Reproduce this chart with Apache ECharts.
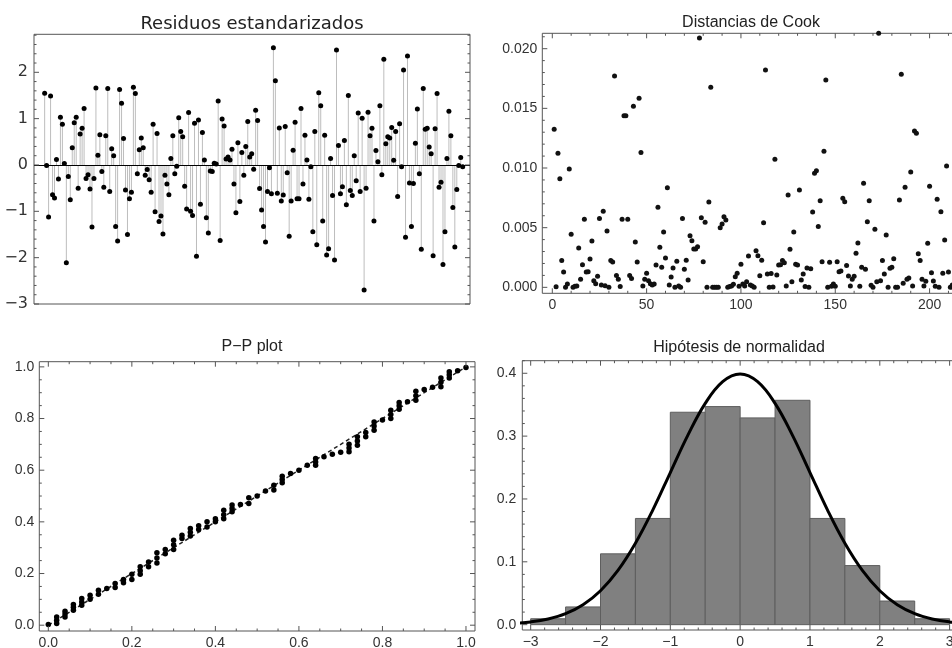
<!DOCTYPE html>
<html>
<head>
<meta charset="utf-8">
<script src="https://cdn.jsdelivr.net/npm/echarts@6/dist/echarts.min.js"></script>
<style>
html,body{margin:0;padding:0;background:#fff;}
#chart{width:952px;height:648px;}
</style>
</head>
<body>
<div id="chart"></div>
<script>
// ---------- DATA ----------
const residuals = [
 1.55,-0.01,-1.12,1.49,-0.64,-0.71,0.12,-0.30,1.03,0.88,
 0.03,-2.11,-0.25,-0.75,0.37,0.91,1.03,-0.50,0.67,0.79,
 1.22,-0.29,-0.21,-0.52,-1.34,-0.29,1.66,0.21,0.65,-0.14,
 -0.48,0.63,1.65,-0.57,0.35,0.20,-1.33,-1.64,1.63,1.33,
 0.57,-0.54,-1.50,-0.73,-0.59,1.68,1.54,-0.19,0.33,0.58,
 0.37,-0.22,-0.10,-0.32,-0.59,0.88,-1.01,0.68,-1.22,-1.10,
 -1.49,-0.22,-0.41,-0.64,0.14,0.63,-0.19,-0.03,1.02,0.72,
 0.61,-0.46,-0.95,1.13,-1.00,-1.09,0.90,-1.97,0.97,-0.85,
 0.70,0.11,-1.14,-1.47,-0.13,-0.14,0.04,0.02,1.38,-1.63,
 0.99,0.84,0.13,0.17,0.11,0.34,-0.41,-1.03,0.48,-0.79,
 0.27,-0.22,0.40,0.94,0.17,
 0.24,-0.09,1.18,0.96,-0.51,-0.97,-1.33,-1.66,-0.57,-0.06,
 -0.62,2.53,1.82,-0.61,0.80,-0.78,-0.65,0.83,-0.17,-1.54,
 -0.78,0.32,0.92,-0.73,-0.73,1.22,-0.41,0.64,0.11,-0.74,
 -0.04,-1.44,0.72,-1.72,1.56,1.28,-1.21,0.64,-1.94,-1.81,
 0.14,-0.66,-2.05,2.48,0.42,-0.62,-0.47,0.53,-0.86,1.50,
 -0.55,-0.66,0.20,-0.34,1.12,-0.57,1.01,-2.70,-0.50,1.14,
 0.63,0.79,-1.21,0.31,0.07,1.28,-0.21,2.28,0.46,0.61,
 0.58,0.81,0.10,0.72,-0.68,0.89,-0.04,2.05,-1.56,2.35,
 -0.39,-1.33,-0.40,0.47,1.21,-0.19,-1.82,1.65,0.77,0.79,
 0.39,0.24,-1.96,0.78,1.54,-0.48,-0.37,-2.15,-1.44,0.14,
 1.16,0.63,-0.92,-1.77,-0.53,-0.01,0.16,-0.04
];
const cookDistances = [
 0.01324,0.00005,0.01123,0.00911,0.00224,0.00129,0.0,0.00028,0.00992,0.00444,
 0.0,0.0001,0.00011,0.0033,0.00067,0.0019,0.0057,0.00129,0.00131,0.00237,
 0.00388,0.00056,0.00031,0.00092,0.00576,0.0002,0.00637,0.00014,0.00472,0.0,
 0.00224,0.00212,0.01771,0.001,0.00067,0.00006,0.0057,0.01439,0.01439,0.0057,
 0.001,0.00075,0.01517,0.0038,0.00212,0.01584,0.01129,0.00011,0.00067,0.00117,
 0.00056,0.00031,0.0002,0.00028,0.00187,0.00671,0.00335,0.00168,0.00464,0.00246,
 0.00835,0.0002,0.00087,0.00162,0.0,0.00218,0.00011,0.0,0.00576,0.00151,
 0.00226,0.00061,0.00433,0.00391,0.00321,0.00321,0.00341,0.0209,0.00584,0.00215,
 0.00545,0.0,0.00715,0.01676,0.0,0.0,0.0,0.0,0.005,0.00531,
 0.00592,0.00564,0.0,0.00006,0.00011,0.00025,0.00089,0.00117,0.0001,0.00193,
 0.00028,0.00011,0.00047,0.00263,0.0002,0.00011,0.0,0.00307,0.00265,0.00098,
 0.00226,0.00542,0.01822,0.00112,0.0,0.00115,0.00003,0.01073,0.00103,0.00187,
 0.0019,0.00224,0.00207,0.00011,0.00774,0.00319,0.00047,0.00464,0.00193,0.00187,
 0.00816,0.00061,0.00112,0.00006,0.00162,0.0,0.00156,0.00631,0.00956,0.00978,
 0.00509,0.00726,0.00215,0.0114,0.01738,0.0,0.0021,0.0001,0.00028,0.0001,
 0.00215,0.00131,0.00137,0.00746,0.00718,0.00182,0.00095,0.00011,0.00067,0.00092,
 0.00285,0.00372,0.0001,0.00168,0.00872,0.00151,0.0055,0.00726,0.00017,0.0,
 0.00486,0.00047,0.0213,0.00056,0.00224,0.00112,0.00439,0.0,0.00159,0.00168,
 0.0024,0.0,0.0,0.00732,0.01785,0.00034,0.00838,0.00067,0.00078,0.00967,
 0.00011,0.0131,0.01291,0.00282,0.00224,0.00067,0.00011,0.0005,0.00369,0.00847,
 0.00123,0.00053,0.0001,0.00738,0.0,0.00634,0.00117,0.00397,0.01017,0.00129,
 0.0,0.0002,0.0001
];
const ppTheoretical = [
 0.00,0.02,0.04,0.06,0.08,0.10,0.12,0.14,0.16,0.18,
 0.20,0.22,0.24,0.26,0.28,0.30,0.32,0.34,0.36,0.38,
 0.40,0.42,0.44,0.46,0.48,0.50,0.52,0.54,0.56,0.58,
 0.60,0.62,0.64,0.66,0.68,0.70,0.72,0.74,0.76,0.78,
 0.80,0.82,0.84,0.86,0.88,0.90,0.92,0.94,0.96,0.98,1.00
];
const ppObserved = [
 [0.003],[0.007,0.019,0.032],[0.032,0.043,0.054],[0.058,0.069,0.080],[0.077,0.090,0.103],
 [0.100,0.116],[0.120,0.135],[0.142],[0.146,0.161],[0.164,0.177],
 [0.177,0.197],[0.197,0.211,0.226],[0.226,0.245],[0.241,0.260,0.280],[0.277,0.293],
 [0.293,0.311,0.329],[0.336,0.348],[0.345,0.360,0.374],[0.370,0.385],[0.380,0.400],
 [0.400,0.412],[0.412,0.428,0.445],[0.439,0.452,0.465],[0.467],[0.471,0.493],
 [0.500],[0.519],[0.523,0.542],[0.551,0.564,0.577],[0.587],
 [0.600],[0.619],[0.619,0.632,0.645],[0.652],[0.662],
 [0.669],[0.671,0.686,0.700],[0.697,0.713,0.729],[0.729,0.746],[0.755,0.771,0.787],
 [0.794],[0.800,0.816,0.832],[0.836,0.849,0.862],[0.865],[0.871,0.888,0.906],
 [0.912],[0.921],[0.923,0.940,0.957],[0.957,0.969,0.981],[0.985],[0.998]
];
const ppReference = [0, 1];
const histBinEdges = [-3,-2.5,-2,-1.5,-1,-0.5,0,0.5,1,1.5,2,2.5,3];
const histDensity = [0.0094,0.0282,0.1127,0.169,0.338,0.347,0.329,0.357,0.169,0.094,0.0376,0.0094];
const normalX = [-3.75,-3.5,-3.25,-3,-2.75,-2.5,-2.25,-2,-1.75,-1.5,-1.25,-1,-0.75,-0.5,-0.25,0,
                 0.25,0.5,0.75,1,1.25,1.5,1.75,2,2.25,2.5,2.75,3,3.25,3.5,3.75];
const normalY = [0.0004,0.0009,0.002,0.0044,0.0091,0.0175,0.0317,0.054,0.0863,0.1295,0.1826,0.242,0.3011,0.3521,0.3867,0.3989,
                 0.3867,0.3521,0.3011,0.242,0.1826,0.1295,0.0863,0.054,0.0317,0.0175,0.0091,0.0044,0.002,0.0009,0.0004];

const residTickLabels = [-3,-2,-1,0,1,2];
const cookXTickLabels = [0,50,100,150,200];
const cookYTickLabels = [0,0.005,0.010,0.015,0.020];
const ppTickLabels = [0,0.2,0.4,0.6,0.8,1.0];
const histXTickLabels = [-3,-2,-1,0,1,2,3];
const histYTickLabels = [0,0.1,0.2,0.3,0.4];

const titles = ['Residuos estandarizados','Distancias de Cook','P\u2212P plot','Hip\u00f3tesis de normalidad'];

// ---------- STYLE / LAYOUT ----------
const FRAME = '#555';
const LABEL = '#333';
const SANS = '"Liberation Sans", Arial, sans-serif';
const DEJAVU = '"DejaVu Sans", Verdana, sans-serif';

function steps(a, b, s) {
  const out = [];
  const n = Math.round((b - a) / s);
  for (let i = 0; i <= n; i++) out.push(+(a + i * s).toFixed(6));
  return out;
}
const minus = v => (v < 0 ? '\u2212' + Math.abs(v) : String(v));

const panels = [
  { grid:{left:34, top:34.3, right:482, bottom:344},
    x:[-4.4,216.7], y:[-3,2.82],
    ticks:{ left:[residTickLabels, steps(-3,2.8,0.2)], right:[residTickLabels, steps(-3,2.8,0.2)] },
    xLabels:null, yLabels:residTickLabels,
    xFmt:null, yFmt:minus, font:DEJAVU, fontSize:16, yMargin:6 },
  { grid:{left:542.3, top:33.3, right:-14, bottom:354.7},
    x:[-5.3,219.3], y:[-0.0005,0.02129],
    ticks:{ bottom:[cookXTickLabels, steps(0,210,10)], top:[cookXTickLabels, steps(0,210,10)],
            left:[cookYTickLabels, steps(0,0.021,0.001)] },
    xLabels:cookXTickLabels, yLabels:cookYTickLabels,
    xFmt:v=>String(v), yFmt:v=>v.toFixed(3), font:SANS, fontSize:14, yMargin:5 },
  { grid:{left:39.3, top:361.7, right:477, bottom:17},
    x:[-0.0216,1.0216], y:[-0.0225,1.02],
    ticks:{ bottom:[ppTickLabels, steps(0,1,0.05)], top:[ppTickLabels, steps(0,1,0.05)],
            left:[ppTickLabels, steps(0,1,0.05)], right:[ppTickLabels, steps(0,1,0.05)] },
    xLabels:ppTickLabels, yLabels:ppTickLabels,
    xFmt:v=>v.toFixed(1), yFmt:v=>v.toFixed(1), font:SANS, fontSize:14, yMargin:5 },
  { grid:{left:522.3, top:360.7, right:-6, bottom:18},
    x:[-3.12,3.12], y:[-0.0085,0.42],
    ticks:{ bottom:[histXTickLabels, steps(-3,3,0.2)], top:[histXTickLabels, steps(-3,3,0.2)],
            left:[histYTickLabels, steps(0,0.42,0.02)] },
    xLabels:histXTickLabels, yLabels:histYTickLabels,
    xFmt:minus, yFmt:v=>v.toFixed(1), font:SANS, fontSize:14, yMargin:6 }
];

const titleCenters = [[252,14,18,DEJAVU],[751,14,16,SANS],[252,337.5,16,SANS],[739,338.5,16,SANS]];

const option = {
  animation:false,
  backgroundColor:'#fff',
  title: titles.map((t,i)=>({
    text:t, left:titleCenters[i][0], top:titleCenters[i][1], textAlign:'center', padding:0,
    textStyle:{fontFamily:titleCenters[i][3], fontSize:titleCenters[i][2], fontWeight:'normal', color:'#222',
               lineHeight:titleCenters[i][2]+2}
  })),
  grid: panels.map(p=>Object.assign({show:true, borderColor:FRAME, borderWidth:1, backgroundColor:'transparent',
                                     containLabel:false, outerBoundsMode:'none'}, p.grid)),
  xAxis: panels.map((p,i)=>({
    type:'value', gridIndex:i, min:p.x[0], max:p.x[1], position:'bottom',
    axisLine:{show:false}, splitLine:{show:false}, axisTick:{show:false},
    axisLabel: p.xLabels ? {show:true, customValues:p.xLabels, formatter:p.xFmt, margin:5,
               fontFamily:p.font, fontSize:p.fontSize, color:LABEL, showMinLabel:true, showMaxLabel:true}
                         : {show:false}
  })),
  yAxis: panels.map((p,i)=>({
    type:'value', gridIndex:i, min:p.y[0], max:p.y[1], position:'left',
    axisLine:{show:false}, splitLine:{show:false}, axisTick:{show:false},
    axisLabel:{show:true, customValues:p.yLabels, formatter:p.yFmt, margin:p.yMargin,
               fontFamily:p.font, fontSize:p.fontSize, color:LABEL, showMinLabel:true, showMaxLabel:true}
  })),
  series: []
};

// frame ticks drawn through each panel's scales
const SIDE = {bottom:0, top:1, left:2, right:3};
panels.forEach((p,i)=>{
  const data = [];
  Object.keys(p.ticks).forEach(side=>{
    const [majors, minors] = p.ticks[side];
    minors.forEach(v=>{
      const isMajor = majors.some(m=>Math.abs(m-v)<1e-9) ? 1 : 0;
      data.push([v, SIDE[side], isMajor]);
    });
  });
  option.series.push({
    type:'custom', xAxisIndex:i, yAxisIndex:i, silent:true, z:10, clip:false,
    encode:{x:0, y:0},
    data,
    renderItem:(params, api)=>{
      const v = api.value(0), s = api.value(1), major = api.value(2);
      const L = major ? 5 : 2.5;
      let a, shape;
      if (s === 0) { a = api.coord([v, p.y[0]]); shape = {x1:a[0], y1:a[1], x2:a[0], y2:a[1]-L}; }
      else if (s === 1) { a = api.coord([v, p.y[1]]); shape = {x1:a[0], y1:a[1], x2:a[0], y2:a[1]+L}; }
      else if (s === 2) { a = api.coord([p.x[0], v]); shape = {x1:a[0], y1:a[1], x2:a[0]+L, y2:a[1]}; }
      else { a = api.coord([p.x[1], v]); shape = {x1:a[0], y1:a[1], x2:a[0]-L, y2:a[1]}; }
      return {type:'line', shape, style:{stroke:FRAME, lineWidth:1}};
    }
  });
});

// Panel 1: standardized residuals (stems + dots + zero line)
const residData = residuals.map((v,k)=>[k+1, v]);
option.series.push({
  type:'bar', xAxisIndex:0, yAxisIndex:0, data:residData, barWidth:1,
  itemStyle:{color:'#bdbdbd', opacity:1}, silent:true, z:2,
  markLine:{silent:true, symbol:['none','none'], label:{show:false},
            lineStyle:{color:'#000', width:1, type:'solid'}, data:[{yAxis:0}]}
});
option.series.push({
  type:'scatter', xAxisIndex:0, yAxisIndex:0, data:residData, symbolSize:5,
  itemStyle:{color:'#000', opacity:1}, z:4
});

// Panel 2: Cook's distances
option.series.push({
  type:'scatter', xAxisIndex:1, yAxisIndex:1, clip:false,
  data:cookDistances.map((v,k)=>[k+1, v]), symbolSize:5,
  itemStyle:{color:'#111', opacity:1}, z:4
});

// Panel 3: P-P plot
const ppData = [];
ppTheoretical.forEach((x,k)=>ppObserved[k].forEach(y=>ppData.push([x,y])));
option.series.push({
  type:'line', xAxisIndex:2, yAxisIndex:2, data:ppReference.map(v=>[v,v]), symbol:'none',
  lineStyle:{color:'#222', width:1.5, type:[4,3]}, silent:true, z:3
});
option.series.push({
  type:'scatter', xAxisIndex:2, yAxisIndex:2, data:ppData, symbolSize:5.5,
  itemStyle:{color:'#000', opacity:1}, z:4
});

// Panel 4: histogram + normal density
const histData = histDensity.map((d,k)=>[histBinEdges[k], histBinEdges[k+1], d]);
option.series.push({
  type:'custom', xAxisIndex:3, yAxisIndex:3, data:histData, encode:{x:[0,1], y:2}, z:2, silent:true,
  renderItem:(params, api)=>{
    const p0 = api.coord([api.value(0), 0]);
    const p1 = api.coord([api.value(1), api.value(2)]);
    return {type:'rect', shape:{x:p0[0], y:p1[1], width:p1[0]-p0[0], height:p0[1]-p1[1]},
            style:{fill:'#808080', stroke:'#5e5e5e', lineWidth:1}};
  }
});
option.series.push({
  type:'line', xAxisIndex:3, yAxisIndex:3, clip:false, smooth:0.4, symbol:'none',
  data:normalX.map((x,k)=>[x, normalY[k]]),
  lineStyle:{color:'#000', width:3}, silent:true, z:5
});

const chart = echarts.init(document.getElementById('chart'), null, {renderer:'canvas', width:952, height:648});
chart.setOption(option);
</script>
</body>
</html>
